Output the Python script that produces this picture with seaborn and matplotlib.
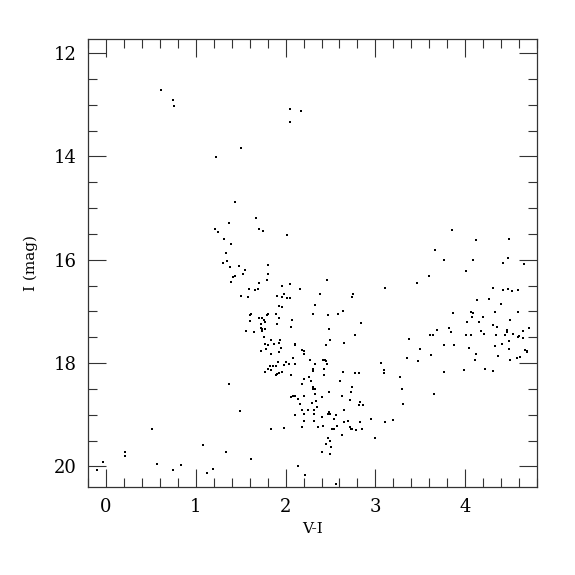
import matplotlib
matplotlib.use('Agg')
import matplotlib.pyplot as plt
from matplotlib.ticker import MultipleLocator
import numpy as np
import pandas as pd
import seaborn as sns

# colour (V-I) and magnitude (I) of each star
vi = [0.61, 0.75, 0.76, 1.23, 2.05, 2.17, 2.05, 1.51,
      1.44, 1.37, 1.22, 1.25, 1.32, 1.39, 1.34, 1.35, 1.30, 1.38, 1.48, 1.44, 1.42, 1.39,
      1.37, 1.49, 0.52, 1.08, 1.34, 0.22, 0.22, -0.03, -0.10, 0.57, 0.84, 0.75, 1.19, 1.13,
      3.11, 3.19, 3.27, 3.29, 3.31, 3.65, 3.37, 3.49, 3.35, 3.47, 3.62, 3.76, 3.87, 3.76,
      3.99, 4.04, 4.12, 4.11, 4.22, 4.31, 4.33, 4.36, 4.41, 4.48, 4.48, 4.50, 4.57, 4.61,
      4.66, 4.68, 4.68,
      3.85, 4.12, 4.49, 3.66, 3.76, 4.08, 4.47, 4.42, 4.65, 4.01, 3.59, 3.46, 3.11, 4.31,
      4.42, 4.47, 4.52, 4.58, 4.13, 4.26, 4.40, 3.86, 4.06, 4.09, 4.07, 4.20, 4.33, 4.59,
      4.02, 4.15, 4.50, 4.31, 4.35, 3.68, 3.82, 3.84, 4.17, 4.46, 4.46, 4.64, 4.71, 3.61,
      3.64, 4.01, 4.06, 4.21, 4.34, 4.44, 4.53, 4.58, 4.60, 4.64,
      1.67, 1.70, 1.75, 2.02, 1.55, 1.53, 1.81, 1.80, 1.79, 1.71, 1.59, 1.66, 1.69, 1.96,
      2.05, 2.16, 2.46, 1.51, 1.58, 1.90, 1.98, 1.96, 2.02, 2.05, 2.38, 2.75, 2.74, 1.93,
      1.96, 2.33, 1.62, 1.61, 1.79, 1.80, 1.89, 2.30, 2.47, 2.58, 2.64, 1.71, 1.74, 1.76,
      1.93, 2.07, 1.60, 1.77, 1.90, 2.84, 1.73, 1.73, 1.74, 1.77, 2.06, 2.48, 1.74, 1.56,
      1.65, 2.77, 1.76, 1.84, 1.94, 2.49,
      1.77, 1.80, 1.87, 1.93, 1.95, 1.78, 1.73, 1.84, 1.93, 2.10, 2.11, 2.18, 2.20, 2.20,
      2.45, 2.65, 2.08, 2.27, 2.42, 2.44, 2.45, 2.33, 2.46, 1.92, 2.00, 1.98, 2.04, 2.10,
      1.83, 1.86, 1.89, 1.81, 1.84, 1.77, 1.93, 1.96, 1.90, 1.89, 2.30, 2.31, 2.43, 2.64,
      2.77, 2.82, 3.06, 3.10, 3.10, 2.06, 2.43, 2.26, 2.28, 2.21, 2.18, 2.30, 2.30, 2.33,
      2.61, 2.74, 2.73, 2.33, 2.08, 2.11, 2.06, 2.21, 2.40, 2.48, 2.63, 2.14, 2.16, 2.34,
      2.29, 2.72, 2.83, 2.82, 2.86, 2.35, 2.18, 2.25, 2.32, 2.48, 2.49, 2.47, 2.65, 2.21,
      2.32, 2.40, 2.56, 2.10, 2.20, 2.32, 2.54, 2.65, 2.70, 2.83, 2.95, 2.18, 2.36, 2.42,
      2.57, 2.52, 2.54, 2.72, 2.73, 2.74, 2.78, 2.85, 1.84, 1.98, 3.00, 2.63, 2.47, 2.50,
      2.45, 2.51, 2.40, 2.50, 1.62, 2.14, 2.22, 2.56]
imag = [12.72, 12.91, 13.02, 14.01, 13.09, 13.12, 13.34, 13.83,
        14.89, 15.29, 15.40, 15.46, 15.60, 15.70, 15.87, 16.02, 16.06, 16.14, 16.12, 16.31, 16.34, 16.43,
        18.41, 18.92, 19.27, 19.59, 19.72, 19.73, 19.80, 19.91, 20.08, 19.96, 19.98, 20.07, 20.05, 20.12,
        19.14, 19.10, 18.28, 18.50, 18.80, 18.60, 17.53, 17.72, 17.90, 17.97, 17.85, 17.65, 17.66, 18.17,
        18.14, 17.70, 17.83, 17.95, 18.12, 18.15, 17.68, 17.86, 17.63, 17.58, 17.73, 17.94, 17.90, 17.89,
        17.74, 17.76, 17.78,
        15.42, 15.61, 15.60, 15.81, 16.01, 16.01, 15.96, 16.07, 16.08, 16.21, 16.31, 16.45, 16.54, 16.54,
        16.58, 16.57, 16.61, 16.59, 16.78, 16.76, 16.86, 17.03, 17.01, 17.04, 17.10, 17.10, 17.01, 17.01,
        17.20, 17.21, 17.16, 17.27, 17.30, 17.37, 17.32, 17.39, 17.38, 17.37, 17.39, 17.38, 17.32, 17.45,
        17.46, 17.46, 17.45, 17.44, 17.46, 17.46, 17.43, 17.49, 17.47, 17.51,
        15.19, 15.40, 15.44, 15.53, 16.20, 16.28, 16.10, 16.27, 16.40, 16.45, 16.57, 16.58, 16.57, 16.51,
        16.47, 16.56, 16.39, 16.70, 16.72, 16.70, 16.66, 16.72, 16.75, 16.74, 16.67, 16.67, 16.72, 16.90,
        16.91, 16.88, 17.05, 17.07, 17.07, 17.06, 17.05, 17.05, 17.07, 17.05, 16.99, 17.12, 17.12, 17.16,
        17.12, 17.17, 17.19, 17.21, 17.24, 17.22, 17.25, 17.32, 17.34, 17.34, 17.30, 17.34, 17.38, 17.38,
        17.40, 17.45, 17.50, 17.55, 17.55, 17.55,
        17.63, 17.65, 17.63, 17.61, 17.70, 17.72, 17.77, 17.83, 17.79, 17.63, 17.66, 17.75, 17.77, 17.83,
        17.65, 17.61, 17.91, 17.94, 17.94, 17.94, 17.96, 18.01, 18.02, 17.98, 17.98, 18.04, 18.02, 18.01,
        18.05, 18.05, 18.06, 18.11, 18.14, 18.17, 18.19, 18.17, 18.21, 18.24, 18.12, 18.16, 18.12, 18.18,
        18.19, 18.19, 17.99, 18.13, 18.20, 18.24, 18.24, 18.28, 18.34, 18.31, 18.41, 18.47, 18.50, 18.50,
        18.34, 18.47, 18.56, 18.60, 18.63, 18.63, 18.65, 18.63, 18.65, 18.56, 18.63, 18.70, 18.79, 18.73,
        18.78, 18.72, 18.76, 18.81, 18.81, 18.85, 18.90, 18.90, 18.90, 18.94, 18.98, 18.98, 18.90, 18.98,
        18.99, 19.05, 19.01, 19.01, 19.12, 19.13, 19.09, 19.14, 19.13, 19.14, 19.08, 19.23, 19.23, 19.22,
        19.21, 19.27, 19.27, 19.24, 19.27, 19.28, 19.30, 19.27, 19.28, 19.26, 19.45, 19.39, 19.45, 19.51,
        19.57, 19.63, 19.72, 19.77, 19.86, 20.00, 20.16, 20.35]

df = pd.DataFrame({'V-I': vi, 'I': imag})

sns.set_style('ticks')
plt.rcParams['font.family'] = ['DejaVu Serif']

fig = plt.figure(figsize=(5.75, 5.75), dpi=100, facecolor='white')
ax = fig.add_axes([0.1525, 0.153, 0.782, 0.779])

sns.scatterplot(data=df, x='V-I', y='I', ax=ax, marker='s', s=3,
                color='black', linewidth=0, legend=False)

ax.set_xlim(-0.2, 4.8)
ax.set_ylim(20.4, 11.73)
ax.xaxis.set_major_locator(MultipleLocator(1))
ax.xaxis.set_minor_locator(MultipleLocator(0.2))
ax.yaxis.set_major_locator(MultipleLocator(2))
ax.yaxis.set_minor_locator(MultipleLocator(0.5))
ax.tick_params(which='both', direction='in', top=True, right=True,
               width=0.8, color='#333333', labelcolor='black',
               labelsize=13, pad=8)
ax.tick_params(which='major', length=13)
ax.tick_params(which='minor', length=6.5)
for sp in ax.spines.values():
    sp.set_linewidth(0.9)
    sp.set_color('#333333')

ax.set_xlabel('V-I', fontsize=11, color='black', labelpad=4)
ax.set_ylabel('I (mag)', fontsize=11, color='black', labelpad=11)

fig.savefig('out.png', dpi=100, facecolor='white')
